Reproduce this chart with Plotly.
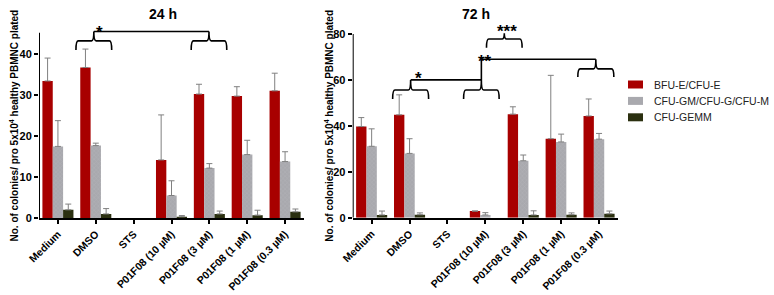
import plotly.graph_objects as go

W, H = 774, 295

categories = ["Medium", "DMSO", "STS", "P01F08 (10 µM)", "P01F08 (3 µM)",
              "P01F08 (1 µM)", "P01F08 (0.3 µM)"]
series_names = ["BFU-E/CFU-E", "CFU-GM/CFU-G/CFU-M", "CFU-GEMM"]

# 24 h: bar values and upper error-bar ends
bfu_24 = [33.5, 36.8, 0, 14.2, 30.3, 29.8, 31.1]
bfu_24_top = [39.1, 41.3, None, 25.2, 32.7, 32.1, 35.4]
cfugm_24 = [17.5, 17.7, 0, 5.5, 12.2, 15.5, 13.8]
cfugm_24_top = [23.8, 18.3, None, 9.1, 13.3, 19.0, 16.2]
gemm_24 = [2.0, 1.0, 0, 0.3, 1.0, 0.7, 1.5]
gemm_24_top = [3.4, 2.3, None, 0.6, 1.7, 1.9, 2.2]

# 72 h
bfu_72 = [39.7, 44.8, 0, 2.9, 45.1, 34.4, 44.3]
bfu_72_top = [43.6, 53.5, None, None, 48.3, 62.0, 51.7]
cfugm_72 = [31.1, 28.0, 0, 1.2, 24.8, 33.0, 34.2]
cfugm_72_top = [38.7, 34.4, None, 2.2, 27.3, 36.4, 36.7]
gemm_72 = [1.2, 1.3, 0, 0, 1.2, 1.3, 1.7]
gemm_72_top = [2.9, 2.1, None, None, 3.0, 2.1, 2.9]

y_ticks_24 = [0, 10, 20, 30, 40]
y_ticks_72 = [0, 20, 40, 60, 80]

colors = ["#A80000", "#A9A9AE", "#2B3010"]
FONT = "Liberation Sans, Arial, sans-serif"


def px_x(p):
    return p / W


def px_y(p):
    return 1 - p / H


def plus(vals, tops):
    return [None if t is None else max(t - v, 0) for v, t in zip(vals, tops)]


fig = go.Figure()
xs = list(range(len(categories)))
for ax, data in (("", [(bfu_24, bfu_24_top), (cfugm_24, cfugm_24_top), (gemm_24, gemm_24_top)]),
                 ("2", [(bfu_72, bfu_72_top), (cfugm_72, cfugm_72_top), (gemm_72, gemm_72_top)])):
    for i, (vals, tops) in enumerate(data):
        marker = dict(color=colors[i], line=dict(width=0))
        if i == 1:
            marker["pattern"] = dict(shape="x", size=3, solidity=0.25,
                                     fgcolor="#BDBDC2", bgcolor="#A9A9AE")
        # zero-height bars are left out so no empty error caps are drawn
        yv = [v if v > 0 else None for v in vals]
        fig.add_trace(go.Bar(
            x=xs, y=yv, name=series_names[i], showlegend=False,
            marker=marker, offsetgroup=str(i),
            xaxis="x" + ax, yaxis="y" + ax,
            error_y=dict(type="data", symmetric=False, array=plus(vals, tops),
                         arrayminus=[0] * len(vals), color="#808080",
                         thickness=1, width=3),
        ))

tickfont = dict(family=FONT, size=11, color="black", weight="bold")
xtickfont = dict(family=FONT, size=10.5, color="black", weight="bold")
xcommon = dict(tickmode="array", tickvals=xs, ticktext=categories, tickangle=-45,
               range=[-0.5, 6.5], showline=True, linecolor="black", linewidth=2,
               ticks="outside", ticklen=4, tickwidth=1.5, tickcolor="black",
               tickfont=xtickfont, showgrid=False, zeroline=False, fixedrange=True,
               automargin=False)
ycommon = dict(showline=False, ticks="outside", ticklen=4, tickwidth=1.5,
               tickcolor="black", tickfont=tickfont, showgrid=False, zeroline=False,
               tickmode="array", automargin=False, fixedrange=True)

Y24 = [0, 46.5]
Y72 = [0, 81]
D24 = [px_y(218), px_y(27.8)]
D72 = [px_y(217.7), px_y(31.7)]

fig.update_layout(
    width=W, height=H, margin=dict(l=0, r=0, t=0, b=0, pad=0, autoexpand=False),
    paper_bgcolor="white", plot_bgcolor="white", showlegend=False,
    barmode="group", bargap=0.18, bargroupgap=0,
    xaxis=dict(domain=[px_x(39), px_x(304)], anchor="y", **xcommon),
    yaxis=dict(domain=D24, anchor="x", range=Y24, tickvals=y_ticks_24, **ycommon),
    xaxis2=dict(domain=[px_x(352.7), px_x(618)], anchor="y2", **xcommon),
    yaxis2=dict(domain=D72, anchor="x2", range=Y72, tickvals=y_ticks_72, **ycommon),
    font=dict(family=FONT),
)

# y-axis lines
fig.add_shape(type="line", xref="x", yref="y", x0=-0.5, x1=-0.5, y0=0, y1=45.3,
              line=dict(color="black", width=2))
fig.add_shape(type="line", xref="x2", yref="y2", x0=-0.5, x1=-0.5, y0=0, y1=80,
              line=dict(color="black", width=2))


def brace(xr, yr, x0, x1, yb, yc, yp, dx=0.06):
    xm = (x0 + x1) / 2
    path = (f"M {x0},{yb} Q {x0},{yc} {x0 + dx},{yc} L {xm - dx},{yc} "
            f"Q {xm},{yc} {xm},{yp} Q {xm},{yc} {xm + dx},{yc} "
            f"L {x1 - dx},{yc} Q {x1},{yc} {x1},{yb}")
    fig.add_shape(type="path", xref=xr, yref=yr, path=path,
                  line=dict(color="black", width=1.6))
    return xm


def line(xr, yr, x0, y0, x1, y1):
    fig.add_shape(type="line", xref=xr, yref=yr, x0=x0, y0=y0, x1=x1, y1=y1,
                  line=dict(color="black", width=1.6))


def star(xpx, ypx, txt):
    # ypx is where the glyph centre should be; the asterisk sits high in its box
    fig.add_annotation(xref="paper", yref="paper", x=px_x(xpx), y=px_y(ypx + 4.5),
                       text=txt, showarrow=False, xanchor="center", yanchor="middle",
                       font=dict(family=FONT, size=17, color="black", weight="bold"))


# 24 h significance
c1 = brace("x", "y", 0.476, 1.42, 41.1, 43.3, 45.6)
c2 = brace("x", "y", 3.52, 4.46, 41.1, 43.3, 45.6)
line("x", "y", c1, 45.6, c2, 45.6)
star(99, 28, "*")

# 72 h significance
d1 = brace("x2", "y2", 0.554, 1.503, 51.7, 55.6, 60.0)
d2 = brace("x2", "y2", 2.426, 3.364, 51.7, 55.6, 60.0)
line("x2", "y2", d1, 60.0, d2, 60.0)
star(418, 74, "*")
d3 = brace("x2", "y2", 5.44, 6.39, 61.3, 64.8, 69.0)
line("x2", "y2", d2, 60.0, d2, 69.0)
line("x2", "y2", d2, 69.0, d3, 69.0)
star(485, 56.7, "**")
brace("x2", "y2", 3.03, 3.97, 74.0, 77.8, 80.3)
star(507, 26.7, "***")

# panel titles
for xpx, t in ((163, "24 h"), (476, "72 h")):
    fig.add_annotation(xref="paper", yref="paper", x=px_x(xpx), y=px_y(14), text=t,
                       showarrow=False, xanchor="center", yanchor="middle",
                       font=dict(family=FONT, size=14, color="black", weight="bold"))

# y-axis titles
ytitle = "No. of colonies/ pro 5x10<sup>4</sup> healthy PBMNC plated"
for xpx in (13.5, 328.7):
    fig.add_annotation(xref="paper", yref="paper", x=px_x(xpx), y=px_y(126), text=ytitle,
                       showarrow=False, textangle=-90, xanchor="center", yanchor="middle",
                       font=dict(family=FONT, size=10, color="black", weight="bold"))

# legend (manual)
for i, name in enumerate(series_names):
    yc = 84.5 + i * 16.4
    fig.add_shape(type="rect", xref="paper", yref="paper",
                  x0=px_x(628), x1=px_x(643), y0=px_y(yc + 4), y1=px_y(yc - 4),
                  fillcolor=colors[i], line=dict(width=0))
    fig.add_annotation(xref="paper", yref="paper", x=px_x(651.5), y=px_y(yc), text=name,
                       showarrow=False, xanchor="left", yanchor="middle",
                       font=dict(family=FONT, size=10.5, color="#222222"))

fig.write_html("out.html", config={"displayModeBar": False},
               post_script="document.body.style.margin='0';document.body.style.overflow='hidden';")
